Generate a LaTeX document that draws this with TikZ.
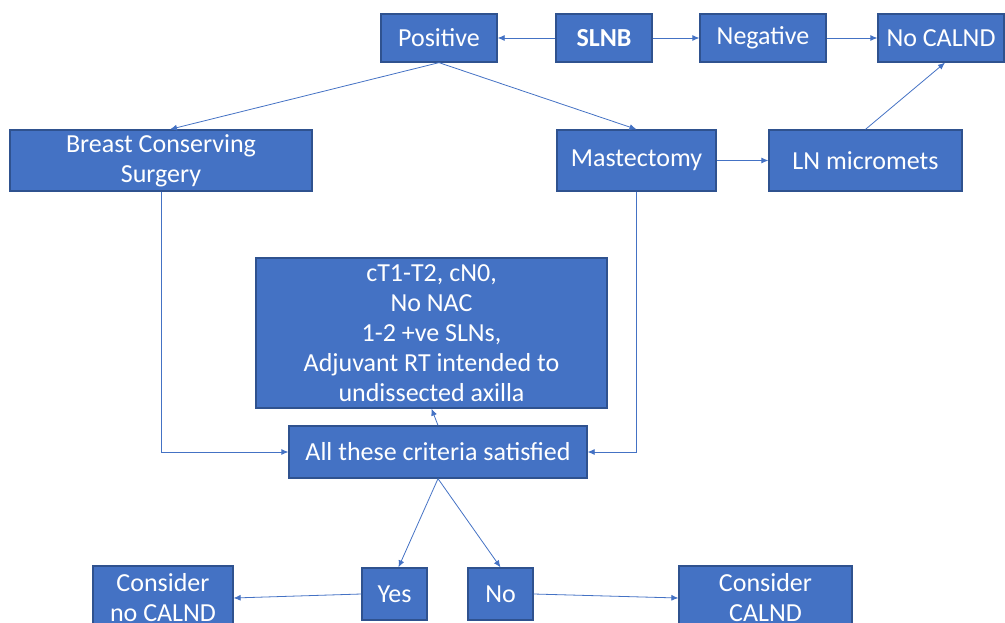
\documentclass[tikz,border=0pt]{standalone}
\usepackage{fontspec}
\setmainfont{Carlito}
\usetikzlibrary{arrows.meta}
\definecolor{boxfill}{HTML}{4472C4}
\definecolor{boxline}{HTML}{2F528F}
\definecolor{conn}{HTML}{4472C4}
\begin{document}
\begin{tikzpicture}[x=1pt,y=-1pt,
  box/.style={draw=boxline,line width=1.3pt,fill=boxfill,text=white,align=center,
    inner sep=0pt,font=\fontsize{26}{30}\selectfont},
  conn/.style={draw=conn,line width=0.8pt,-{Latex[length=7pt,width=6pt]}}]
\path[use as bounding box,clip] (0,0) rectangle (1005,623);
\node[box,minimum width=116pt,minimum height=48pt] (pos) at (439,38) {Positive};
\node[box,minimum width=96pt,minimum height=48pt] (slnb) at (604,38) {\textbf{SLNB}};
\node[box,minimum width=126pt,minimum height=48pt] (neg) at (763,38) {Negative};
\node[box,minimum width=126pt,minimum height=48pt] (nocalnd) at (941,38) {No CALND};
\node[box,minimum width=302pt,minimum height=61pt] (bcs) at (161,160.5) {Breast Conserving\\Surgery};
\node[box,minimum width=159pt,minimum height=61pt] (mast) at (636.5,160.5) {Mastectomy};
\node[box,minimum width=193pt,minimum height=61pt] (ln) at (865.5,160.5) {LN micromets};
\node[box,minimum width=351pt,minimum height=150pt] (crit) at (431.5,333) {cT1-T2, cN0,\\No NAC\\1-2 +ve SLNs,\\Adjuvant RT intended to\\undissected axilla};
\node[box,minimum width=298pt,minimum height=52pt] (all) at (438,452) {All these criteria satisfied};
\node[box,minimum width=65pt,minimum height=52pt] (yes) at (394.5,594) {Yes};
\node[box,minimum width=65pt,minimum height=52pt] (no) at (500.5,594) {No};
\node[box,minimum width=140pt,minimum height=64pt] (cnc) at (163,598) {Consider\\no CALND};
\node[box,minimum width=173pt,minimum height=64pt] (cc) at (765.5,598) {Consider\\CALND};
\draw[conn] (slnb) -- (pos);
\draw[conn] (slnb) -- (neg);
\draw[conn] (neg) -- (nocalnd);
\draw[conn] (pos.south) -- ([xshift=9pt]bcs.north);
\draw[conn] (pos.south) -- (mast.north);
\draw[conn] (mast) -- (ln);
\draw[conn] (ln.north) -- ([xshift=4pt]nocalnd.south);
\draw[conn] (bcs.south) |- (all.west);
\draw[conn] (mast.south) |- (all.east);
\draw[conn] (all.north) -- (crit.south);
\draw[conn] (all.south) -- ([xshift=4pt]yes.north);
\draw[conn] (all.south) -- (no.north);
\draw[conn] (yes.west) -- (cnc.east);
\draw[conn] (no.east) -- (cc.west);
\end{tikzpicture}
\end{document}
